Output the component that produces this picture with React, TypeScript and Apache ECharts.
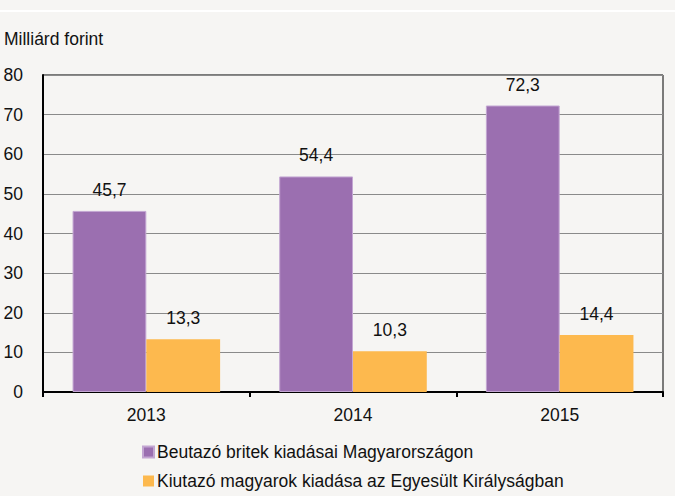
import React, { useEffect, useRef } from "react";
import * as echarts from "echarts";

const categories = ["2013", "2014", "2015"];
const seriesNames = [
  "Beutazó britek kiadásai Magyarországon",
  "Kiutazó magyarok kiadása az Egyesült Királyságban",
];
const britishSpending = [45.7, 54.4, 72.3];
const hungarianSpending = [13.3, 10.3, 14.4];
const unitLabel = "Milliárd forint";

const FONT = "Liberation Sans";
const FS = 17.5;

export default function App() {
  const ref = useRef<HTMLDivElement>(null);
  useEffect(() => {
    document.body.style.margin = "0";
    const chart = echarts.init(ref.current!, null, { renderer: "svg" });
    const fmt = (p: any) => String(p.value).replace(".", ",");
    chart.setOption({
      animation: false,
      backgroundColor: "#f6f5f3",
      textStyle: { fontFamily: FONT },
      graphic: [
        { type: "rect", shape: { x: 0, y: 10, width: 675, height: 2 }, style: { fill: "#ffffff" } },
        {
          type: "text",
          x: 4,
          y: 39,
          style: { text: unitLabel, fontSize: FS, fontFamily: FONT, fill: "#111", verticalAlign: "middle" },
        },
      ],
      grid: {
        left: 43,
        right: 12,
        top: 75,
        bottom: 104,
        show: true,
        borderColor: "#000",
        borderWidth: 1,
        backgroundColor: "transparent",
      },
      legend: {
        orient: "vertical",
        left: 137,
        top: 438,
        itemWidth: 11,
        itemHeight: 11,
        itemGap: 11,
        icon: "rect",
        data: seriesNames,
        textStyle: { fontSize: FS, color: "#111", fontFamily: FONT, padding: [0, 0, 0, -2] },
      },
      xAxis: {
        type: "category",
        data: categories,
        axisLine: { lineStyle: { color: "#000", width: 2 } },
        axisTick: { show: true, length: 5, lineStyle: { color: "#000", width: 2 } },
        axisLabel: { fontSize: FS, color: "#111", margin: 14, fontFamily: FONT },
      },
      yAxis: {
        type: "value",
        min: 0,
        max: 80,
        interval: 10,
        axisLine: { show: true, lineStyle: { color: "#000", width: 2 } },
        axisTick: { show: false },
        axisLabel: { fontSize: FS, color: "#111", margin: 20, fontFamily: FONT },
        splitLine: { lineStyle: { color: "#8a8a8a", width: 1 } },
      },
      series: [
        {
          name: seriesNames[0],
          type: "bar",
          data: britishSpending,
          barWidth: "35.7%",
          barGap: "0%",
          itemStyle: { color: "#9b6fb0", borderColor: "#c3a6d2", borderWidth: 1 },
          label: { show: true, position: "top", distance: 12, fontSize: FS, color: "#111", formatter: fmt, fontFamily: FONT },
        },
        {
          name: seriesNames[1],
          type: "bar",
          data: hungarianSpending,
          barWidth: "35.7%",
          barGap: "0%",
          itemStyle: { color: "#fdb94e" },
          label: { show: true, position: "top", distance: 12, fontSize: FS, color: "#111", formatter: fmt, fontFamily: FONT },
        },
      ],
    });
    return () => chart.dispose();
  }, []);
  return <div ref={ref} style={{ width: 675, height: 496, position: "absolute", left: 0, top: 0 }} />;
}
